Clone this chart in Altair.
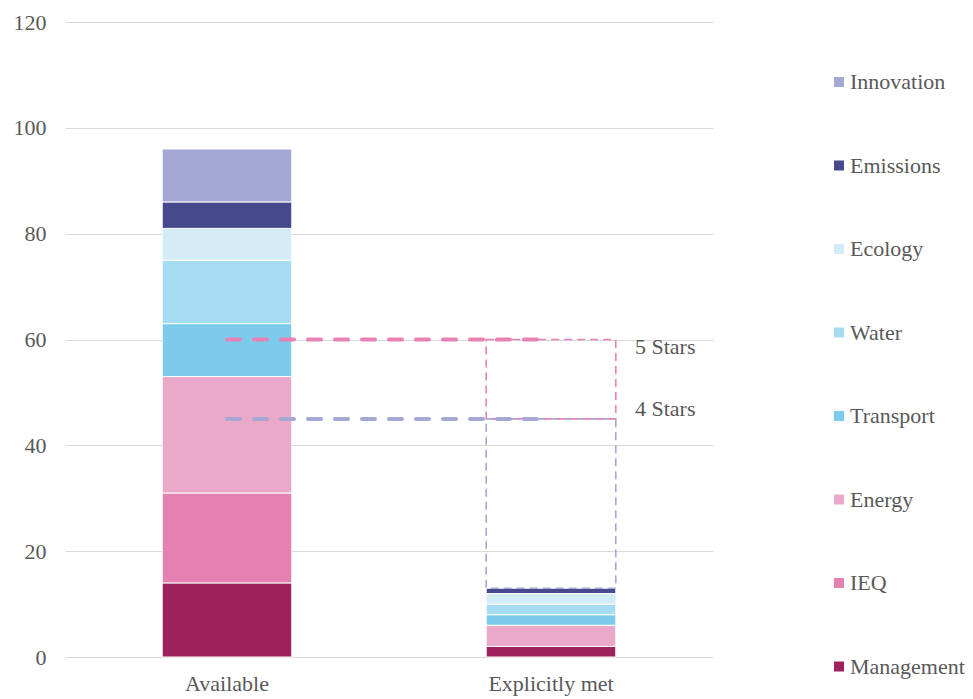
import altair as alt
import pandas as pd

# Credit categories, bottom of the stack first
segments = ["Management", "IEQ", "Energy", "Transport", "Water", "Ecology", "Emissions", "Innovation"]
colors = ["#9d225c", "#e481b0", "#eaa9c9", "#7ccbec", "#a6dcf1", "#d4ecf8", "#464a8c", "#a5a8d4"]

bars = ["Available", "Explicitly met"]
available_points = [14, 17, 22, 10, 12, 6, 5, 10]
met_points = [2, 0, 4, 2, 2, 2, 1, 0]

# Star-rating thresholds
star_levels = [60, 45]
star_labels = ["5 Stars", "4 Stars"]
star_colors = ["#e882b4", "#a5a8d4"]

FONT = "Liberation Serif, Tinos, Noto Serif, DejaVu Serif, serif"
TEXT = "#595959"
GRID = "#d9d9d9"

rows = []
for bar, vals in zip(bars, [available_points, met_points]):
    for i, (seg, v) in enumerate(zip(segments, vals)):
        rows.append({"bar": bar, "segment": seg, "points": v, "rank": i})
df = pd.DataFrame(rows)

met_total = sum(met_points)

x_scale = alt.Scale(domain=bars, paddingInner=0.6, paddingOuter=0.3)
y_scale = alt.Scale(domain=[0, 120])

x_enc = alt.X("bar:N", scale=x_scale, sort=bars,
              axis=alt.Axis(title=None, labelAngle=0, ticks=False, domainColor=GRID,
                            labelFont=FONT, labelFontSize=22, labelColor=TEXT, labelPadding=16))

stack = alt.Chart(df).transform_filter("datum.points > 0").mark_bar(
    stroke="white", strokeWidth=1
).encode(
    x=x_enc,
    y=alt.Y("points:Q", scale=y_scale, stack="zero",
            axis=alt.Axis(title=None, values=[0, 20, 40, 60, 80, 100, 120], ticks=False,
                          domain=False, gridColor=GRID, gridWidth=1,
                          labelFont=FONT, labelFontSize=22, labelColor=TEXT, labelPadding=19)),
    color=alt.Color("segment:N",
                    scale=alt.Scale(domain=segments[::-1], range=colors[::-1]),
                    legend=alt.Legend(title=None, orient="none", legendX=763, legendY=49,
                                      symbolType="square", symbolSize=100, symbolStrokeWidth=0,
                                      symbolOpacity=1, labelFont=FONT, labelFontSize=22,
                                      labelColor=TEXT, labelOffset=0, rowPadding=61.5)),
    order=alt.Order("rank:Q", sort="ascending"),
)

# Dashed boxes over the "Explicitly met" bar showing the gap to each rating
box_df = pd.DataFrame({
    "bar": [bars[1], bars[1]],
    "lo": [met_total, star_levels[1]],
    "hi": [star_levels[1], star_levels[0]],
    "c": [star_colors[1], star_colors[0]],
})
boxes = alt.Chart(box_df).mark_bar(
    fillOpacity=0, strokeWidth=1.6, strokeDash=[8, 5]
).encode(
    x=alt.X("bar:N", scale=x_scale, sort=bars),
    y=alt.Y("lo:Q", scale=y_scale),
    y2="hi:Q",
    stroke=alt.Stroke("c:N", scale=None),
)

# Threshold lines from the middle of one bar to the other
line_df = pd.DataFrame({
    "from": [bars[0]] * 2,
    "to": [bars[1]] * 2,
    "level": star_levels,
    "c": star_colors,
})
lines = alt.Chart(line_df).mark_rule(
    strokeWidth=4, strokeDash=[13, 14], strokeCap="round"
).encode(
    x=alt.X("from:N", scale=x_scale, sort=bars),
    x2="to:N",
    y=alt.Y("level:Q", scale=y_scale),
    stroke=alt.Stroke("c:N", scale=None),
)

def star_text(idx, dy, baseline):
    d = pd.DataFrame({"bar": [bars[1]], "level": [star_levels[idx]], "label": [star_labels[idx]]})
    return alt.Chart(d).mark_text(
        align="left", baseline=baseline, dx=84, dy=dy,
        font=FONT, fontSize=22, color=TEXT,
    ).encode(
        x=alt.X("bar:N", scale=x_scale, sort=bars),
        y=alt.Y("level:Q", scale=y_scale),
        text="label:N",
    )

chart = alt.layer(
    stack, boxes, lines,
    star_text(0, -3, "top"),
    star_text(1, -3, "alphabetic"),
).properties(
    width=648, height=635,
    background="white",
    padding={"left": 65, "top": 22, "right": 260, "bottom": 42},
    autosize=alt.AutoSizeParams(type="none"),
).configure_view(stroke=None)

chart.save("out.html", embed_options={"renderer": "svg", "actions": False})
